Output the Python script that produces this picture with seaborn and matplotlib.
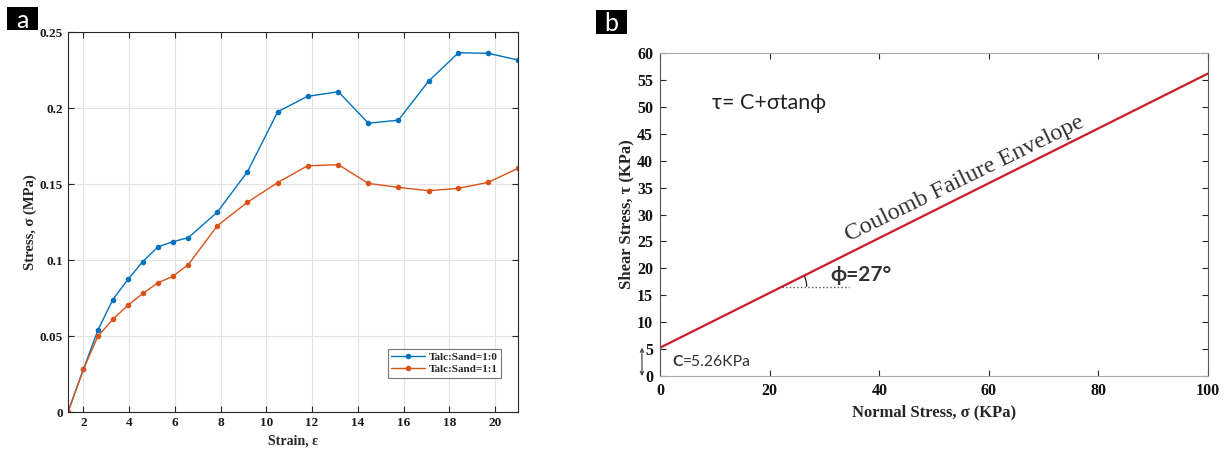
import numpy as np
import pandas as pd
import seaborn as sns
import matplotlib.pyplot as plt
from matplotlib.patches import Arc, Rectangle

# Panel a data: stress-strain curves
strain = [1.33, 2.0, 2.64, 3.29, 3.96, 4.6, 5.26, 5.9, 6.59, 7.86, 9.17,
          10.5, 11.8, 13.15, 14.46, 15.77, 17.1, 18.4, 19.7, 21.0]
stress_10 = [0.0, 0.028, 0.054, 0.074, 0.0875, 0.099, 0.1086, 0.112, 0.1147, 0.1316, 0.158,
             0.1976, 0.2077, 0.2107, 0.190, 0.192, 0.2178, 0.2364, 0.236, 0.2316]
stress_11 = [0.0, 0.028, 0.050, 0.061, 0.0704, 0.078, 0.085, 0.0892, 0.097, 0.1226, 0.138,
             0.151, 0.162, 0.1627, 0.1504, 0.1478, 0.1456, 0.1472, 0.1511, 0.1603]
mix_names = ['Talc:Sand=1:0', 'Talc:Sand=1:1']
strain_ticks = [2, 4, 6, 8, 10, 12, 14, 16, 18, 20]
stress_ticks = [0, 0.05, 0.1, 0.15, 0.2, 0.25]
stress_tick_labels = ['0', '0.05', '0.1', '0.15', '0.2', '0.25']

# Panel b data: Coulomb failure envelope end points
normal_stress = [0, 100]
shear_stress = [5.26, 56.2]
cohesion = 5.26
phi_deg = 27
normal_ticks = [0, 20, 40, 60, 80, 100]
shear_ticks = list(range(0, 61, 5))

df = pd.DataFrame({
    'strain': strain + strain,
    'stress': stress_10 + stress_11,
    'mix': [mix_names[0]] * len(strain) + [mix_names[1]] * len(strain),
})

sns.set_theme(style='ticks')
plt.rcParams['font.family'] = ['Liberation Serif', 'DejaVu Serif']
plt.rcParams['font.weight'] = 'bold'

blue = '#0072BD'
orange = '#D95319'
red = '#CC1C24'
axcol = '#262626'

fig = plt.figure(figsize=(12.28, 4.5), dpi=100)
ax1 = fig.add_axes([0.0554, 0.0844, 0.3664, 0.8444])
ax2 = fig.add_axes([0.5375, 0.1644, 0.4463, 0.7178])

# ---- panel a
sns.lineplot(data=df, x='strain', y='stress', hue='mix', palette=[blue, orange],
             marker='o', markersize=4, markeredgewidth=0, linewidth=1.0, ax=ax1)
ax1.set_xlim(1.33, 21.0)
ax1.set_ylim(0, 0.25)
ax1.set_xticks(strain_ticks)
ax1.set_yticks(stress_ticks)
ax1.set_yticklabels(stress_tick_labels)
ax1.grid(True, color='#e3e3e3', lw=0.8)
ax1.tick_params(direction='in', top=True, right=True, labelsize=9.5, length=4,
                color=axcol, labelcolor='#1a1a1a', width=0.8)
for s in ax1.spines.values():
    s.set_color(axcol)
    s.set_linewidth(0.8)
    s.set_visible(True)
ax1.set_xlabel('Strain, ε', fontsize=10, fontweight='bold', labelpad=4)
ax1.set_ylabel('Stress, σ (MPa)', fontsize=10.5, fontweight='bold', labelpad=2)
for lab in ax1.get_xticklabels() + ax1.get_yticklabels():
    lab.set_fontweight('bold')
leg = ax1.legend(loc='lower right', bbox_to_anchor=(0.975, 0.076), fontsize=8,
                 frameon=True, fancybox=False, edgecolor='#555555', handlelength=3,
                 borderpad=0.3, labelspacing=0.2, handletextpad=0.4)
leg.get_frame().set_linewidth(0.8)

# ---- panel b
sns.lineplot(x=normal_stress, y=shear_stress, color=red, linewidth=1.6, ax=ax2)
ax2.set_xlim(0, 100)
ax2.set_ylim(0, 60)
ax2.set_xticks(normal_ticks)
ax2.set_yticks(shear_ticks)
ax2.tick_params(direction='in', top=True, right=True, labelsize=11.5, length=4,
                color=axcol, labelcolor='#111111', width=0.8, pad=5)
for s in ax2.spines.values():
    s.set_color('#555555')
    s.set_linewidth(0.8)
    s.set_visible(True)
ax2.spines['top'].set_color('#aaaaaa')
ax2.spines['bottom'].set_color('#aaaaaa')
ax2.set_xlabel('Normal Stress, σ (KPa)', fontsize=12, fontweight='bold', labelpad=4)
ax2.set_ylabel('Shear Stress, τ (KPa)', fontsize=12, fontweight='bold', labelpad=2)
for lab in ax2.get_xticklabels() + ax2.get_yticklabels():
    lab.set_fontweight('bold')

sans = ['Lato', 'Noto Sans', 'DejaVu Sans']
ax2.text(9.5, 50.7, 'τ= C+σtanϕ', fontsize=15.5, family=sans, fontweight='normal',
         va='center', ha='left', color='#222222')
ax2.text(55.5, 36.6, 'Coulomb Failure Envelope', fontsize=17.5, fontweight='normal',
         rotation=26, rotation_mode='anchor', ha='center', va='center', color='#333333')

# angle marker
x0 = (16.6 - cohesion) / np.tan(np.radians(phi_deg))
ax2.plot([x0, 34.5], [16.6, 16.6], ls=':', color='#555555', lw=1.0)
ax2.add_patch(Arc((x0, 16.6), 9.0, 9.0 * 5.48 / 5.38, theta1=0, theta2=phi_deg,
                  color='#222222', lw=0.9))
ax2.text(31.0, 18.8, 'ϕ=%d°' % phi_deg, fontsize=15, family=sans, fontweight='bold',
         va='center', ha='left', color='#333333')

# cohesion marker
ax2.annotate('', xy=(-3.3, 0), xytext=(-3.3, cohesion),
             arrowprops=dict(arrowstyle='<->', lw=0.8, color='#333333',
                             mutation_scale=6, shrinkA=0, shrinkB=0),
             annotation_clip=False)
t1 = ax2.text(2.2, 2.6, 'C', fontsize=11.3, family=sans, fontweight='bold',
              va='center', ha='left', color='#333333')
ax2.annotate('=%.2fKPa' % cohesion, xy=(1, 0), xycoords=t1, va='bottom', ha='left',
             fontsize=11.3, family=sans, fontweight='normal', color='#333333')

# panel letters
for (bx, by, bw, bh), letter in [((0.0057, 0.9333, 0.0252, 0.0511), 'a'),
                                 ((0.4853, 0.9244, 0.0252, 0.0533), 'b')]:
    fig.patches.append(Rectangle((bx, by), bw, bh, transform=fig.transFigure,
                                 facecolor='black', edgecolor='none'))
    fig.text(bx + bw / 2, by + bh / 2 - 0.004, letter, fontsize=18, family=sans,
             fontweight='normal', color='white', ha='center', va='center')

fig.savefig('out.png', dpi=100)
